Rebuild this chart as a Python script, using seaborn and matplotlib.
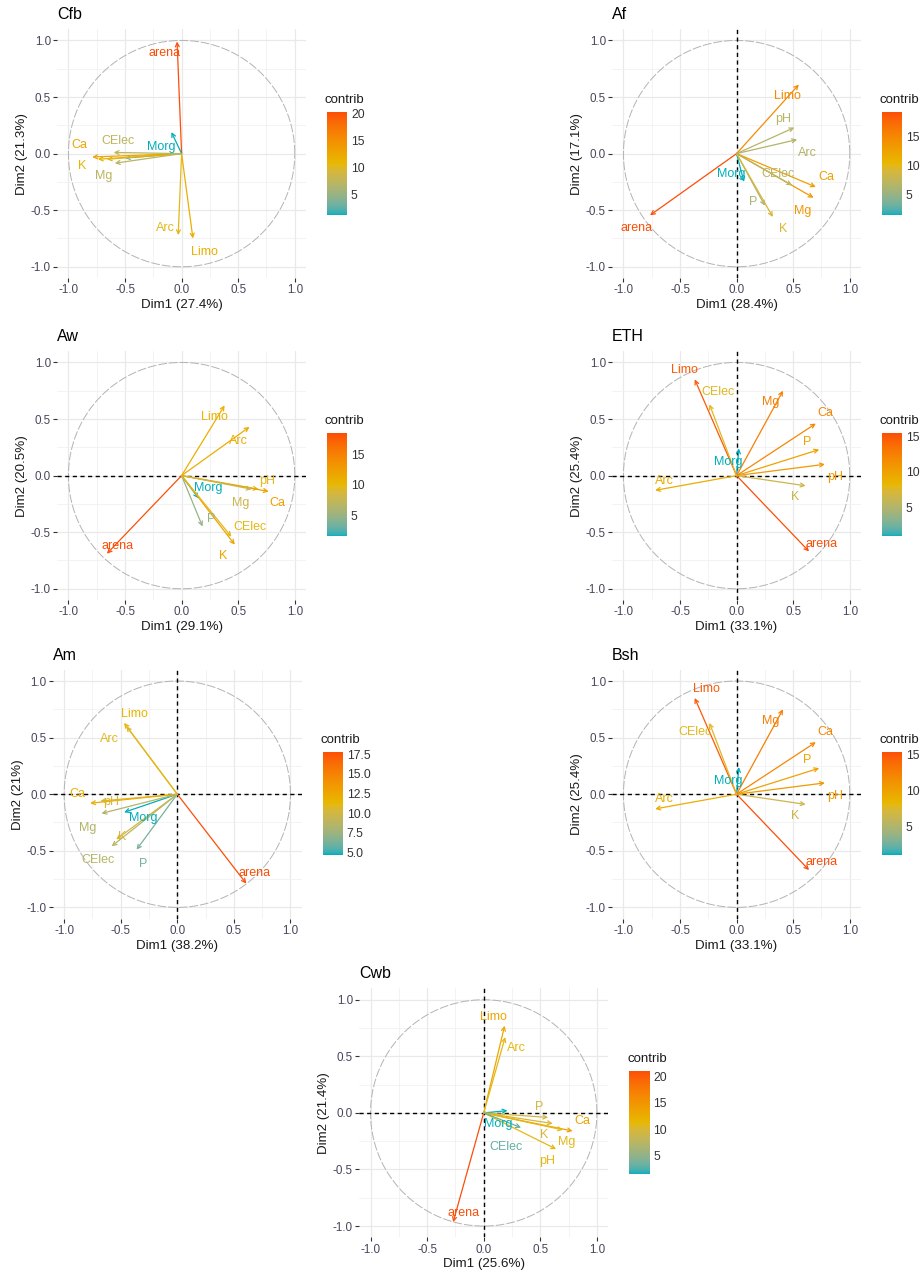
import numpy as np
import matplotlib
matplotlib.use("Agg")
import matplotlib.pyplot as plt
import seaborn as sns
from matplotlib.colors import Normalize, ListedColormap, to_rgb
from matplotlib.ticker import MultipleLocator, FormatStrFormatter

# ---------------------------------------------------------------------------
# Variable coordinates on the first two PCA dimensions and their contribution
# ---------------------------------------------------------------------------
variables = ["arena", "Limo", "Arc", "Morg", "pH", "P", "K", "Ca", "Mg", "CElec"]

cfb_dim1 = [-0.04, 0.10, -0.03, -0.09, -0.66, -0.50, -0.74, -0.79, -0.59, -0.60]
cfb_dim2 = [0.99, -0.75, -0.72, 0.19, -0.05, -0.04, -0.05, -0.03, -0.085, 0.01]
cfb_contrib = [20.3, 11.7, 10.5, 1.3, 9.0, 5.2, 11.3, 12.8, 7.3, 7.4]
cfb_explained = [27.4, 21.3]

af_dim1 = [-0.765, 0.55, 0.535, 0.065, 0.51, 0.25, 0.32, 0.70, 0.68, 0.49]
af_dim2 = [-0.545, 0.61, 0.124, -0.25, 0.23, -0.46, -0.56, -0.295, -0.39, -0.28]
af_contrib = [19.3, 14.8, 6.6, 1.5, 6.9, 6.0, 9.1, 12.7, 13.5, 7.0]
af_explained = [28.4, 17.1]

aw_dim1 = [-0.66, 0.38, 0.60, 0.15, 0.68, 0.185, 0.47, 0.77, 0.62, 0.44]
aw_dim2 = [-0.69, 0.62, 0.43, -0.20, -0.12, -0.45, -0.61, -0.14, -0.12, -0.54]
aw_contrib = [18.5, 10.7, 11.0, 1.5, 9.6, 4.8, 11.9, 12.3, 8.0, 9.8]
aw_explained = [29.1, 20.5]

eth_dim1 = [0.64, -0.37, -0.72, 0.02, 0.78, 0.73, 0.61, 0.70, 0.41, -0.24]
eth_dim2 = [-0.67, 0.85, -0.13, 0.24, 0.10, 0.23, -0.09, 0.46, 0.75, 0.63]
eth_contrib = [15.4, 14.8, 9.1, 1.0, 10.6, 9.9, 6.5, 12.0, 12.5, 7.8]
eth_explained = [33.1, 25.4]

am_dim1 = [0.61, -0.47, -0.45, -0.47, -0.68, -0.36, -0.54, -0.77, -0.67, -0.58]
am_dim2 = [-0.79, 0.63, 0.60, -0.16, -0.06, -0.49, -0.40, -0.08, -0.17, -0.46]
am_contrib = [17.8, 11.5, 10.8, 4.7, 10.5, 6.3, 10.2, 12.0, 8.4, 8.6]
am_explained = [38.2, 21]

bsh_dim1 = [0.64, -0.37, -0.72, 0.02, 0.78, 0.73, 0.61, 0.70, 0.41, -0.24]
bsh_dim2 = [-0.67, 0.85, -0.13, 0.24, 0.10, 0.23, -0.09, 0.46, 0.75, 0.63]
bsh_contrib = [15.4, 14.8, 9.1, 1.0, 10.6, 9.9, 6.5, 12.0, 12.5, 7.8]
bsh_explained = [33.1, 25.4]

cwb_dim1 = [-0.27, 0.185, 0.19, 0.21, 0.64, 0.57, 0.61, 0.786, 0.70, 0.33]
cwb_dim2 = [-0.965, 0.77, 0.67, 0.02, -0.32, -0.04, -0.094, -0.16, -0.15, -0.13]
cwb_contrib = [21.1, 13.3, 11.0, 1.45, 11.0, 9.5, 10.0, 13.7, 10.9, 3.0]
cwb_explained = [25.6, 21.4]

# Label placement relative to each arrow tip (None = label hidden)
cfb_offsets = {"arena": (-0.11, -0.10), "Limo": (0.10, -0.12), "Arc": (-0.11, 0.06),
               "Morg": (-0.09, -0.13), "pH": None, "P": None, "K": (-0.14, -0.06),
               "Ca": (-0.11, 0.11), "Mg": (-0.10, -0.11), "CElec": (0.04, 0.10)}
af_offsets = {"arena": (-0.115, -0.115), "Limo": (-0.10, -0.10), "Arc": (0.09, -0.12),
              "Morg": (-0.11, 0.07), "pH": (-0.10, 0.08), "P": (-0.10, 0.03),
              "K": (0.09, -0.11), "Ca": (0.09, 0.085), "Mg": (-0.10, -0.12),
              "CElec": (-0.12, 0.10)}
aw_offsets = {"arena": (0.09, 0.07), "Limo": (-0.09, -0.10), "Arc": (-0.10, -0.12),
              "Morg": (0.085, 0.09), "pH": (0.08, 0.07), "P": (0.08, 0.07),
              "K": (-0.10, -0.10), "Ca": (0.08, -0.10), "Mg": (-0.10, -0.12),
              "CElec": (0.16, 0.09)}
eth_offsets = {"arena": (0.11, 0.07), "Limo": (-0.095, 0.08), "Arc": (0.08, 0.086),
               "Morg": (-0.09, -0.12), "pH": (0.09, -0.115), "P": (-0.11, 0.07),
               "K": (-0.09, -0.10), "Ca": (0.085, 0.09), "Mg": (-0.11, -0.10),
               "CElec": (0.08, 0.11)}
am_offsets = {"arena": (0.07, 0.09), "Limo": (0.095, 0.08), "Arc": (-0.15, -0.11),
              "Morg": (0.17, -0.05), "pH": (0.10, -0.01), "P": (0.06, -0.13),
              "K": (0.05, 0.02), "Ca": (-0.11, 0.08), "Mg": (-0.12, -0.13),
              "CElec": (-0.12, -0.12)}
bsh_offsets = {"arena": (0.11, 0.07), "Limo": (0.10, 0.08), "Arc": (0.08, 0.086),
               "Morg": (-0.09, -0.12), "pH": (0.09, -0.115), "P": (-0.11, 0.07),
               "K": (-0.09, -0.10), "Ca": (0.085, 0.09), "Mg": (-0.11, -0.10),
               "CElec": (-0.13, -0.08)}
cwb_offsets = {"arena": (0.09, 0.08), "Limo": (-0.10, 0.08), "Arc": (0.10, -0.10),
               "Morg": (-0.08, -0.12), "pH": (-0.08, -0.105), "P": (-0.08, 0.09),
               "K": (-0.08, -0.10), "Ca": (0.09, 0.09), "Mg": (0.03, -0.11),
               "CElec": (-0.13, -0.17)}

# ---------------------------------------------------------------------------
# Styling
# ---------------------------------------------------------------------------
sns.set_theme(style="white")
plt.rcParams["font.family"] = ["Liberation Sans", "DejaVu Sans"]
plt.rcParams["axes.unicode_minus"] = False

W, H = 923, 1276
fig = plt.figure(figsize=(W / 100, H / 100), dpi=100)
fig.patch.set_facecolor("white")


# Gradient interpolated in CIELAB space (as a ggplot gradientn scale does)
def _srgb_to_lab(rgb):
    c = np.asarray(rgb, float)
    lin = np.where(c <= 0.04045, c / 12.92, ((c + 0.055) / 1.055) ** 2.4)
    m = np.array([[0.4124, 0.3576, 0.1805],
                  [0.2126, 0.7152, 0.0722],
                  [0.0193, 0.1192, 0.9505]])
    xyz = m @ lin / np.array([0.95047, 1.0, 1.08883])
    f = np.where(xyz > 0.008856, np.cbrt(xyz), 7.787 * xyz + 16 / 116)
    return np.array([116 * f[1] - 16, 500 * (f[0] - f[1]), 200 * (f[1] - f[2])])


def _lab_to_srgb(lab):
    L, a, b = lab
    fy = (L + 16) / 116
    fx = fy + a / 500
    fz = fy - b / 200
    f = np.array([fx, fy, fz])
    xyz = np.where(f ** 3 > 0.008856, f ** 3, (f - 16 / 116) / 7.787)
    xyz = xyz * np.array([0.95047, 1.0, 1.08883])
    m_inv = np.array([[3.2406, -1.5372, -0.4986],
                      [-0.9689, 1.8758, 0.0415],
                      [0.0557, -0.2040, 1.0570]])
    lin = m_inv @ xyz
    c = np.where(lin <= 0.0031308, 12.92 * lin, 1.055 * np.clip(lin, 0, None) ** (1 / 2.4) - 0.055)
    return np.clip(c, 0, 1)


gradient_cols = ["#00AFBB", "#E7B800", "#FC4E07"]
_labs = [_srgb_to_lab(to_rgb(c)) for c in gradient_cols]
_steps = []
for s in np.linspace(0, 1, 256):
    seg = min(int(s * 2), 1)
    u = s * 2 - seg
    _steps.append(_lab_to_srgb((1 - u) * _labs[seg] + u * _labs[seg + 1]))
grad = ListedColormap(_steps)

TICK_COL = "#47475c"
PANEL = 249.0


def px_rect(left, top, w, h):
    return [left / W, 1 - (top + h) / H, w / W, h / H]


def draw_panel(name, dim1, dim2, contrib, explained, offsets, ax_pos, cb_pos,
               hline, vline, cb_step, cb_fmt):
    ax = fig.add_axes(px_rect(ax_pos[0], ax_pos[1], PANEL, PANEL))
    cax = fig.add_axes(px_rect(cb_pos[0], cb_pos[1], 20.5, 103))

    ax.set_xlim(-1.1, 1.1)
    ax.set_ylim(-1.1, 1.1)
    ax.set_facecolor("white")
    for s in ax.spines.values():
        s.set_visible(False)
    for axis in (ax.xaxis, ax.yaxis):
        axis.set_major_locator(MultipleLocator(0.5))
        axis.set_minor_locator(MultipleLocator(0.25))
        axis.set_major_formatter(FormatStrFormatter("%.1f"))
    ax.grid(which="major", color="#e9e9e9", lw=0.9)
    ax.grid(which="minor", color="#f1f1f1", lw=0.6)
    ax.set_axisbelow(True)
    ax.tick_params(which="major", length=3, width=0.8, color="#333333",
                   labelsize=8.4, labelcolor=TICK_COL, pad=1.5,
                   bottom=True, left=True)
    ax.tick_params(which="minor", length=0)

    # correlation circle
    t = np.linspace(0, 2 * np.pi, 400)
    ax.plot(np.cos(t), np.sin(t), color="#b3b3b3", lw=0.7, ls=(0, (9, 2)), zorder=1)

    if hline:
        ax.axhline(0, color="black", lw=1.0, ls=(0, (3, 2.5)), zorder=2)
    if vline:
        ax.axvline(0, color="black", lw=1.0, ls=(0, (3, 2.5)), zorder=2)

    norm = Normalize(min(contrib), max(contrib))
    for v, x, y, c in zip(variables, dim1, dim2, contrib):
        col = grad(norm(c))
        ax.annotate("", xy=(x, y), xytext=(0, 0),
                    arrowprops=dict(arrowstyle="->", color=col, lw=0.9,
                                    shrinkA=0, shrinkB=0, mutation_scale=7),
                    zorder=3)
        off = offsets.get(v)
        if off is not None:
            ax.text(x + off[0], y + off[1], v, color=col, fontsize=9,
                    ha="center", va="center", zorder=4)

    ax.set_xlabel(f"Dim1 ({explained[0]:g}%)", fontsize=9.6, color="#1a1a1a", labelpad=2)
    ax.set_ylabel(f"Dim2 ({explained[1]:g}%)", fontsize=9.6, color="#1a1a1a", labelpad=2)
    ax.text(0, 1 + 14.5 / PANEL, name, transform=ax.transAxes, fontsize=11.5,
            ha="left", va="center", color="black")

    sm = plt.cm.ScalarMappable(norm=norm, cmap=grad)
    cb = fig.colorbar(sm, cax=cax)
    cb.outline.set_visible(False)
    lo, hi = min(contrib), max(contrib)
    ticks = np.arange(np.ceil(lo / cb_step) * cb_step, hi + 1e-9, cb_step)
    cb.set_ticks(ticks)
    cb.set_ticklabels([cb_fmt.format(tk) for tk in ticks])
    cax.minorticks_off()
    cax.tick_params(which="major", direction="in", length=4, width=0.8,
                    color="white", labelsize=8.7, labelcolor="#333333", pad=2.5,
                    left=True, right=True, labelleft=False, labelright=True)
    cax.text(-0.1, 1 + 12 / 103, "contrib", transform=cax.transAxes,
             fontsize=9.5, ha="left", va="center", color="#1a1a1a")
    return ax


draw_panel("Cfb", cfb_dim1, cfb_dim2, cfb_contrib, cfb_explained, cfb_offsets,
           (57.1, 29.1), (327, 112), False, False, 5, "{:.0f}")
draw_panel("Af", af_dim1, af_dim2, af_contrib, af_explained, af_offsets,
           (612.1, 29.1), (881.7, 112), False, True, 5, "{:.0f}")
draw_panel("Aw", aw_dim1, aw_dim2, aw_contrib, aw_explained, aw_offsets,
           (57.1, 351.1), (327, 433.3), True, False, 5, "{:.0f}")
draw_panel("ETH", eth_dim1, eth_dim2, eth_contrib, eth_explained, eth_offsets,
           (612.1, 351.1), (881.7, 433.3), True, True, 5, "{:.0f}")
draw_panel("Am", am_dim1, am_dim2, am_contrib, am_explained, am_offsets,
           (52.8, 669.7), (322.7, 751.7), True, True, 2.5, "{:.1f}")
draw_panel("Bsh", bsh_dim1, bsh_dim2, bsh_contrib, bsh_explained, bsh_offsets,
           (612.1, 669.7), (881.7, 751.7), True, True, 5, "{:.0f}")
draw_panel("Cwb", cwb_dim1, cwb_dim2, cwb_contrib, cwb_explained, cwb_offsets,
           (359.2, 988.4), (629.3, 1071), True, True, 5, "{:.0f}")

fig.savefig("out.png", dpi=100, facecolor="white")
